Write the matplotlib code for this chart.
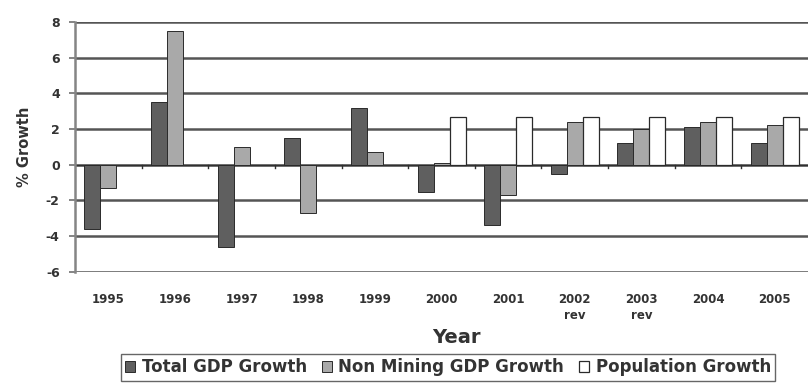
import numpy as np
import matplotlib.pyplot as plt

years = ['1995', '1996', '1997', '1998', '1999', '2000', '2001',
         '2002\nrev', '2003\nrev', '2004', '2005']
total_gdp = [-3.6, 3.5, -4.6, 1.5, 3.2, -1.5, -3.4, -0.5, 1.2, 2.1, 1.2]
non_mining_gdp = [-1.3, 7.5, 1.0, -2.7, 0.7, 0.1, -1.7, 2.4, 2.0, 2.4, 2.2]
population = [np.nan, np.nan, np.nan, np.nan, np.nan, 2.7, 2.7, 2.7, 2.7, 2.7, 2.7]

plt.rcParams['font.family'] = ['DejaVu Sans']
plt.rcParams['axes.unicode_minus'] = False

fig = plt.figure(figsize=(8.1, 3.83), dpi=100)
ax = fig.add_axes([0.0926, 0.29, 0.905, 0.653])

x = np.arange(len(years))
w = 0.24
ax.bar(x - w, total_gdp, w, color='#5f5f5f', edgecolor='#2a2a2a', linewidth=0.7,
       label='Total GDP Growth', zorder=3)
ax.bar(x, non_mining_gdp, w, color='#a9a9a9', edgecolor='#2a2a2a', linewidth=0.7,
       label='Non Mining GDP Growth', zorder=3)
ax.bar(x + w, population, w, color='white', edgecolor='#2a2a2a', linewidth=0.9,
       label='Population Growth', zorder=3)

ax.set_ylim(-6, 8)
ax.set_xlim(-0.5, len(years) - 0.5)
ax.set_yticks(range(-6, 9, 2))
ax.yaxis.grid(True, color='#555555', linewidth=1.8)
ax.set_axisbelow(True)

# category axis sits on the zero line, with small boundary ticks
ax.axhline(0, color='#303030', linewidth=1.0, zorder=2)
for b in np.arange(0.5, len(years) - 0.5, 1):
    ax.plot([b, b], [0, -0.2], color='#303030', linewidth=1.0, zorder=2)

ax.set_xticks(x)
ax.set_xticklabels(years, fontsize=8.5, fontweight='bold', color='#333333',
                   linespacing=1.3)
ax.tick_params(axis='x', length=0, pad=15)
ax.tick_params(axis='y', labelsize=9, length=4, width=1.2, color='#707070',
               labelcolor='#333333', direction='out', pad=7)
for lbl in ax.get_yticklabels():
    lbl.set_fontweight('bold')

for side in ['top', 'right', 'bottom']:
    ax.spines[side].set_visible(False)
ax.spines['left'].set_color('#858585')
ax.spines['left'].set_linewidth(1.8)

ax.set_ylabel('% Growth', fontsize=10.5, fontweight='bold', color='#333333')
ax.yaxis.set_label_coords(-0.058, 0.5)
ax.set_xlabel('Year', fontsize=14, fontweight='bold', color='#333333')
ax.xaxis.set_label_coords(0.52, -0.225)

leg = fig.legend(loc='upper center', bbox_to_anchor=(0.553, 0.075), ncol=3,
                 fancybox=False, frameon=True, edgecolor='#404040',
                 handlelength=0.6, handleheight=0.6, handletextpad=0.4,
                 columnspacing=0.9, borderpad=0.25, borderaxespad=0,
                 prop={'weight': 'bold', 'size': 12})
leg.get_frame().set_linewidth(1.0)
for t in leg.get_texts():
    t.set_color('#333333')

fig.savefig('out.png', dpi=100)
